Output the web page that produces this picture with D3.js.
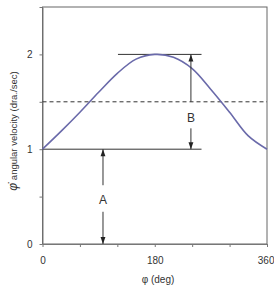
<!DOCTYPE html>
<html>
<head>
<meta charset="utf-8">
<script src="https://d3js.org/d3.v7.min.js"></script>
<style>
  body { margin: 0; background: #fff; }
  svg { font-family: "Liberation Sans", Arial, sans-serif; }
</style>
</head>
<body>
<div id="chart"></div>
<script>
// values
const phi = [0, 30, 60, 90, 120, 150, 180, 210, 240, 270, 300, 330, 360];
const velocity = [1.0, 1.19, 1.39, 1.6, 1.8, 1.95, 2.0, 1.97, 1.85, 1.63, 1.39, 1.14, 1.0];
const xTicks = [0, 60, 120, 180, 240, 300, 360];
const xLabels = [0, 180, 360];
const yTicks = [0, 0.5, 1, 1.5, 2, 2.5];
const yLabels = [0, 1, 2];
// reference levels (A, B markings)
const meanLevel = 1.5;

const w = 274, h = 289;
const padL = 42.5, padR = 267, padT = 7, padB = 244;

const x = d3.scaleLinear().domain([0, 360]).range([padL, padR]);
const y = d3.scaleLinear().domain([0, 2.5]).range([padB, padT]);

const svg = d3.select('#chart').append('svg')
  .attr('width', w).attr('height', h);

const defs = svg.append('defs');
defs.append('marker')
  .attr('id', 'head')
  .attr('viewBox', '0 0 10 10')
  .attr('refX', 10).attr('refY', 5)
  .attr('markerWidth', 9).attr('markerHeight', 7)
  .attr('markerUnits', 'userSpaceOnUse')
  .attr('orient', 'auto')
  .append('path').attr('d', 'M0,1.5 L10,5 L0,8.5 Z').attr('fill', '#222');

// frame
svg.append('rect')
  .attr('x', padL).attr('y', padT)
  .attr('width', padR - padL).attr('height', padB - padT)
  .attr('fill', 'none').attr('stroke', '#666').attr('stroke-width', 1);

const xAxis = d3.axisBottom(x).tickValues(xTicks).tickSize(3).tickSizeOuter(0)
  .tickFormat(d => xLabels.includes(d) ? d : '');
const yAxis = d3.axisLeft(y).tickValues(yTicks).tickSize(3).tickSizeOuter(0)
  .tickFormat(d => yLabels.includes(d) ? d : '');

const gx = svg.append('g').attr('transform', 'translate(0,' + padB + ')').call(xAxis);
const gy = svg.append('g').attr('transform', 'translate(' + padL + ',0)').call(yAxis);
[gx, gy].forEach(g => {
  g.selectAll('path, line').attr('stroke', '#777');
  g.selectAll('text').attr('fill', '#333').style('font-size', '10px');
});
gx.selectAll('text').attr('dy', '1.35em');
// last label sits at the very edge of the page
gx.selectAll('text').filter(d => d === 360).attr('text-anchor', 'end').attr('x', 7);
gy.selectAll('text').attr('dx', '-0.4em');

// dashed mean line
svg.append('line')
  .attr('x1', x(0)).attr('x2', x(360))
  .attr('y1', y(meanLevel)).attr('y2', y(meanLevel))
  .attr('stroke', '#333').attr('stroke-dasharray', '4,3');

// level lines at min and max
svg.append('line')
  .attr('x1', x(0)).attr('x2', x(255))
  .attr('y1', y(1)).attr('y2', y(1))
  .attr('stroke', '#333');
svg.append('line')
  .attr('x1', x(121)).attr('x2', x(255))
  .attr('y1', y(2)).attr('y2', y(2))
  .attr('stroke', '#333');

// curve
const pts = phi.map((p, i) => [p, velocity[i]]);
svg.append('path')
  .datum(pts)
  .attr('fill', 'none')
  .attr('stroke', '#6a6aaa')
  .attr('stroke-width', 1.6)
  .attr('d', d3.line().x(d => x(d[0])).y(d => y(d[1])).curve(d3.curveCatmullRom));

// A and B arrows
function arrow(p, from, to) {
  svg.append('line')
    .attr('x1', x(p)).attr('x2', x(p))
    .attr('y1', y(from)).attr('y2', y(to))
    .attr('stroke', '#333').attr('stroke-width', 1)
    .attr('marker-end', 'url(#head)');
}
arrow(97, 0.62, 1);
arrow(97, 0.34, 0);
arrow(238, 1.5, 2);
arrow(238, 1.22, 1);

svg.append('text').attr('x', x(97)).attr('y', y(0.47))
  .attr('text-anchor', 'middle').attr('dy', '0.35em')
  .style('font-size', '12px').attr('fill', '#333').text('A');
svg.append('text').attr('x', x(238)).attr('y', y(1.33))
  .attr('text-anchor', 'middle').attr('dy', '0.35em')
  .style('font-size', '12px').attr('fill', '#333').text('B');

// axis titles
svg.append('text').attr('x', 158).attr('y', 283)
  .attr('text-anchor', 'middle').style('font-size', '10px').attr('fill', '#333')
  .text('φ (deg)');

const yt = svg.append('text')
  .attr('transform', 'translate(17,' + 131 + ') rotate(-90)')
  .attr('text-anchor', 'middle').style('font-size', '9.5px').attr('fill', '#333');
yt.append('tspan').style('font-style', 'italic').style('font-size', '12px').text('φ\u0307');
yt.append('tspan').text(' angular velocity (dra./sec)');
</script>
</body>
</html>
